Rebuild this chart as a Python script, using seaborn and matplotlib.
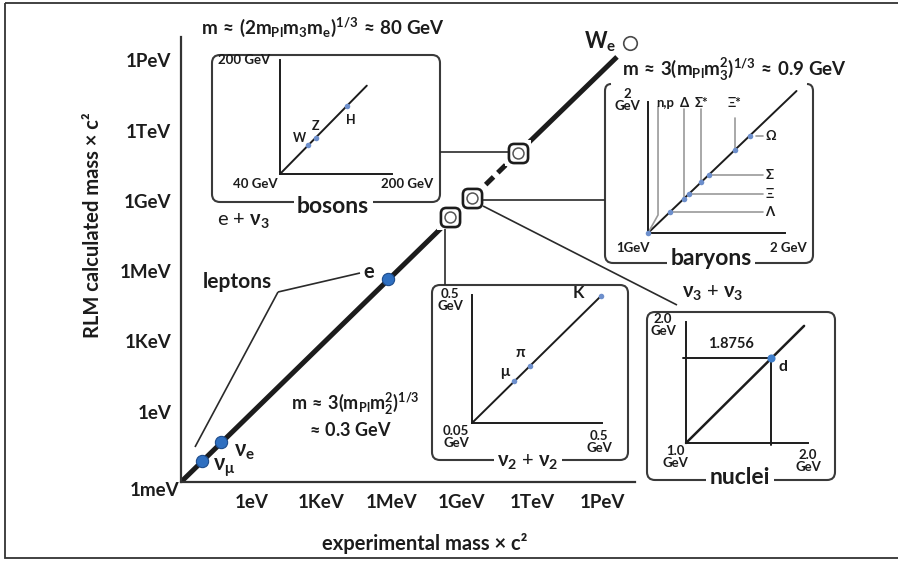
import matplotlib
matplotlib.use("Agg")
import matplotlib.pyplot as plt
from matplotlib.patches import FancyBboxPatch, Rectangle, PathPatch
from matplotlib.path import Path
from matplotlib.ticker import NullFormatter
import seaborn as sns

# ---------------- data ----------------
# main panel: experimental vs. calculated rest energy, in eV
lepton_names = [r"$\nu_\mu$", r"$\nu_e$", "e"]
lepton_exp = [10 ** -2.1, 10 ** -1.29, 10 ** 5.85]
lepton_calc = [10 ** -2.1, 10 ** -1.29, 10 ** 5.68]

group_names = ["mesons", "baryons", "bosons"]
group_exp = [10 ** 8.5, 10 ** 9.44, 10 ** 11.4]
group_calc = [10 ** 8.32, 10 ** 9.13, 10 ** 11.05]

we_exp, we_calc = 10 ** 16.19, 10 ** 15.76
trend_exp = [1e-3, 10 ** 15.63]
trend_calc = [1e-3, 10 ** 15.15]

decade_ticks = [1e0, 1e3, 1e6, 1e9, 1e12, 1e15]
decade_labels = ["1eV", "1KeV", "1MeV", "1GeV", "1TeV", "1PeV"]

# inset panels, masses in GeV
boson_names = ["W", "Z", "H"]
boson_mass = [80.4, 91.2, 135.0]

baryon_names = ["n,p", "Λ", "Δ", "Ξ", "Σ*", "Σ", "Ξ*", "Ω"]
baryon_mass = [1.0, 1.116, 1.20, 1.23, 1.31, 1.36, 1.55, 1.672]
baryon_vertical = ["n,p", "Δ", "Σ*", "Ξ*"]

meson_names = ["μ", "π", "K"]
meson_mass = [0.1057, 0.1396, 0.4937]

deuteron_mass = 1.8756

# ---------------- style ----------------
INK = "#1c1c1c"
BLUE = "#2f6fc0"
BLUE_EDGE = "#1d4c8c"
DOT = "#6d8fcc"
GUIDE = "#9a9a9a"

sns.set_theme(style="white")
plt.rcParams.update({
    "font.family": ["Lato", "DejaVu Sans"],
    "font.weight": "bold",
    "mathtext.fontset": "custom",
    "mathtext.rm": "Lato:bold",
    "mathtext.it": "Lato:bold",
    "mathtext.bf": "Lato:bold",
    "mathtext.sf": "Lato:bold",
    "mathtext.fallback": "stixsans",
    "text.color": INK,
})

W_PX, H_PX = 898, 561
fig = plt.figure(figsize=(W_PX / 100, H_PX / 100), dpi=100)
fig.patch.set_facecolor("white")


def rect(x0, y0, x1, y1):
    """Figure-fraction rectangle from pixel corners (origin at top-left)."""
    return [x0 / W_PX, 1 - y1 / H_PX, (x1 - x0) / W_PX, (y1 - y0) / H_PX]


def path_line(x, y, ax, **kw):
    """Straight polyline through the given points, drawn in the order given."""
    kw.setdefault("legend", False)
    sns.lineplot(x=x, y=y, ax=ax, estimator=None, sort=False, **kw)


# ---------------- main log-log panel ----------------
ax = fig.add_axes(rect(181, 37, 635, 482), zorder=1)
ax.set_xscale("log")
ax.set_yscale("log")

seg = dict(color=INK, lw=3.6)
path_line([trend_exp[0], group_exp[1]], [trend_calc[0], group_calc[1]], ax,
          solid_capstyle="butt", **seg)
path_line([group_exp[1], group_exp[2]], [group_calc[1], group_calc[2]], ax,
          linestyle=(3.0, (2.2, 1.2)), dash_capstyle="butt", **seg)
path_line([group_exp[2], trend_exp[1]], [group_calc[2], trend_calc[1]], ax,
          solid_capstyle="butt", **seg)

# group markers: rounded square with a ring inside, on a white halo
rounded = FancyBboxPatch((-0.5, -0.5), 1, 1,
                         boxstyle="round,pad=0,rounding_size=0.28").get_path()
sns.scatterplot(x=group_exp, y=group_calc, ax=ax, marker="s", s=330,
                color="white", edgecolor="white", linewidth=0, zorder=4, legend=False)
sns.scatterplot(x=group_exp, y=group_calc, ax=ax, marker=rounded, s=190,
                color="white", edgecolor=INK, linewidth=1.9, zorder=5, legend=False)
sns.scatterplot(x=group_exp, y=group_calc, ax=ax, marker="o", s=62,
                color="white", edgecolor="#555555", linewidth=1.1, zorder=6, legend=False)

sns.scatterplot(x=lepton_exp, y=lepton_calc, ax=ax, s=78, color=BLUE,
                edgecolor=BLUE_EDGE, linewidth=0.8, zorder=6, legend=False)
sns.scatterplot(x=[we_exp], y=[we_calc], ax=ax, s=95, color="white",
                edgecolor="#4a4a4a", linewidth=1.2, zorder=6, legend=False)
ax.collections[-1].set_clip_on(False)

lepton_offsets = [(16, -5), (17, -7), (-14, 4.5)]
lepton_sizes = [15.5, 15.5, 14.5]
for name, xe, yc, off, fs in zip(lepton_names, lepton_exp, lepton_calc,
                                 lepton_offsets, lepton_sizes):
    ax.annotate(name, (xe, yc), xytext=off, textcoords="offset points",
                ha="center", va="center", fontsize=fs)
ax.annotate(r"W$_e$", (we_exp, we_calc), xytext=(-21.5, 1),
            textcoords="offset points", ha="center", va="center", fontsize=15.5,
            annotation_clip=False)

ax.set_xlim(1e-3, 10 ** 16.4)
ax.set_ylim(1e-3, 1e16)
ax.set_xticks(decade_ticks, decade_labels)
ax.set_yticks(decade_ticks, decade_labels)
ax.set_xticks([10.0 ** k for k in range(-3, 17)], minor=True)
ax.set_yticks([10.0 ** k for k in range(-3, 17)], minor=True)
ax.xaxis.set_minor_formatter(NullFormatter())
ax.yaxis.set_minor_formatter(NullFormatter())
ax.tick_params(which="both", direction="out", length=4, width=1.5, color="#333333",
               labelsize=13.5, labelcolor=INK)
ax.tick_params(axis="x", pad=5)
ax.tick_params(axis="y", pad=3)
for lab in ax.get_xticklabels() + ax.get_yticklabels():
    lab.set_fontweight("bold")
ax.set_xlabel("")
ax.set_ylabel("")
sns.despine(ax=ax)
for side in ("left", "bottom"):
    ax.spines[side].set_linewidth(1.6)
    ax.spines[side].set_color("#333333")
ax.set_facecolor("none")

# ---------------- overlay for frames, connectors and captions ----------------
ov = fig.add_axes([0, 0, 1, 1], zorder=2)
ov.set_xlim(0, W_PX)
ov.set_ylim(H_PX, 0)
ov.axis("off")

ov.add_patch(Rectangle((5, 3), 905, 555, fill=False, lw=1.3, ec="#333333", clip_on=False))

box_kw = dict(fill=False, lw=1.5, ec="#3a3a3a")
ov.add_patch(FancyBboxPatch((212, 55), 228, 147, boxstyle="round,pad=0,rounding_size=8", **box_kw))
ov.add_patch(FancyBboxPatch((432, 285), 196, 175, boxstyle="round,pad=0,rounding_size=8", **box_kw))
ov.add_patch(FancyBboxPatch((647, 312), 188, 168, boxstyle="round,pad=0,rounding_size=8", **box_kw))
# baryon panel: frame open at the top
bracket = Path([(611, 84), (605, 84), (605, 91), (605, 255), (605, 263), (613, 263),
                (805, 263), (813, 263), (813, 255), (813, 91), (813, 84), (807, 84)],
               [Path.MOVETO, Path.CURVE3, Path.CURVE3, Path.LINETO, Path.CURVE3, Path.CURVE3,
                Path.LINETO, Path.CURVE3, Path.CURVE3, Path.LINETO, Path.CURVE3, Path.CURVE3])
ov.add_patch(PathPatch(bracket, **box_kw))

link = dict(color="#2a2a2a", lw=1.2, solid_capstyle="butt")
ov.plot([440, 508], [152, 152], **link)
ov.plot([483, 605], [200, 200], **link)
ov.plot([483, 677], [206, 305], **link)
ov.plot([445, 445], [229, 285], **link)
ov.plot([278, 360], [292, 273], **link)
ov.plot([278, 195], [292, 447], **link)

ov.text(237, 282, "leptons", ha="center", va="center", fontsize=15)
ov.text(179, 490, "1meV", ha="right", va="center", fontsize=13.5)
ov.text(93, 225, "RLM calculated mass × c²", rotation=90, ha="center", va="center", fontsize=14.5)
ov.text(425, 543, "experimental mass × c²", ha="center", va="center", fontsize=14.5)

ov.text(355, 404, r"m$\,\approx\,$3(m$_{Pl}$m$_2^2$)$^{1/3}$", ha="center", va="center", fontsize=13)
ov.text(349, 430, r"$\approx\,$0.3 GeV", ha="center", va="center", fontsize=13)
ov.text(323, 27, r"m$\,\approx\,$(2m$_{Pl}$m$_3$m$_e$)$^{1/3}$$\,\approx\,$80 GeV",
        ha="center", va="center", fontsize=13.5)
ov.text(734, 70, r"m$\,\approx\,$3(m$_{Pl}$m$_3^2$)$^{1/3}$$\,\approx\,$0.9 GeV",
        ha="center", va="center", fontsize=13.5)

white = dict(facecolor="white", edgecolor="none", boxstyle="square,pad=0.15")
ov.text(333, 206, "bosons", ha="center", va="center", fontsize=16.5, bbox=white)
ov.text(711, 258, "baryons", ha="center", va="center", fontsize=16.5, bbox=white)
ov.text(740, 477, "nuclei", ha="center", va="center", fontsize=16.5, bbox=white)
ov.text(528, 462, r"$\nu_2$ + $\nu_2$", ha="center", va="center", fontsize=14.5,
        fontweight="normal", bbox=white)
ov.text(243, 221, r"e + $\nu_3$", ha="center", va="center", fontsize=14.5, fontweight="normal")
ov.text(713, 293, r"$\nu_3$ + $\nu_3$", ha="center", va="center", fontsize=14.5, fontweight="normal")

small = dict(ha="center", va="center", fontsize=9.5, linespacing=0.95)
ov.text(244, 60, "200 GeV", **small)
ov.text(255, 184, "40 GeV", **small)
ov.text(407, 184, "200 GeV", **small)
ov.text(627, 100, "2\nGeV", **small)
ov.text(633, 248, "1GeV", **small)
ov.text(788, 248, "2 GeV", **small)
ov.text(450, 300, "0.5\nGeV", **small)
ov.text(456, 437, "0.05\nGeV", **small)
ov.text(599, 442, "0.5\nGeV", **small)
ov.text(663, 325, "2.0\nGeV", **small)
ov.text(675, 457, "1.0\nGeV", **small)
ov.text(808, 461, "2.0\nGeV", **small)


# ---------------- inset panels ----------------
def make_inset(x0, y0, x1, y1, scale):
    a = fig.add_axes(rect(x0, y0, x1, y1), zorder=3)
    a.set_facecolor("none")
    a.set_xscale(scale)
    a.set_yscale(scale)
    return a


def finish_inset(a, lim):
    a.set_xlim(lim)
    a.set_ylim(lim)
    a.set_xlabel("")
    a.set_ylabel("")
    a.minorticks_off()
    for side in ("top", "right"):
        a.spines[side].set_visible(False)
    for side in ("left", "bottom"):
        a.spines[side].set_linewidth(1.4)
        a.spines[side].set_color(INK)
    a.tick_params(which="both", labelbottom=False, labelleft=False, color=INK, width=1.3)


line_kw = dict(color=INK, lw=1.4, clip_on=False)
dot_kw = dict(color=DOT, edgecolor=DOT, s=16, linewidth=0, legend=False, zorder=5, clip_on=False)

# bosons (linear, 40-200 GeV)
bx = make_inset(280, 60, 392, 174, "linear")
path_line([40, 164], [40, 164], bx, **line_kw)
sns.scatterplot(x=boson_mass, y=boson_mass, ax=bx, **dot_kw)
for name, m, off in zip(boson_names, boson_mass, [(-6, 5), (0, 8.5), (3, -10)]):
    bx.annotate(name, (m, m), xytext=off, textcoords="offset points",
                ha="center", va="center", fontsize=9)
finish_inset(bx, (40, 200))
bx.set_xticks([200])
bx.set_yticks([200])
bx.tick_params(direction="out", length=5)
bx.set_xticks(range(60, 200, 20), minor=True)
bx.set_yticks(range(60, 200, 20), minor=True)
bx.tick_params(which="minor", direction="in", length=2, width=0.8, color="#888888")

# baryons (log, 1-2 GeV)
byx = make_inset(648, 102, 785, 233, "log")
path_line([1.0, 2.12], [1.0, 2.12], byx, **line_kw)
label_top = {"n,p": 1.95, "Δ": 1.93, "Σ*": 1.93, "Ξ*": 1.84}
guide = dict(color=GUIDE, lw=1.2, clip_on=False)
lab_kw = dict(fontsize=9.5, clip_on=False)
for name, m in zip(baryon_names, baryon_mass):
    if name == "n,p":
        path_line([1.0, 1.052, 1.052], [1.0, 1.10, label_top[name]], byx, **guide)
        byx.text(1.045, 1.99, name, ha="left", va="center", **lab_kw)
    elif name in baryon_vertical:
        path_line([m, m], [m, label_top[name]], byx, **guide)
        byx.text(m, 1.99, name, ha="center", va="center", **lab_kw)
    else:
        start = m * 1.035 if name == "Ω" else m
        path_line([start, 1.79], [m, m], byx, **guide)
        byx.text(1.81, m, name, ha="left", va="center", **lab_kw)
sns.scatterplot(x=baryon_mass, y=baryon_mass, ax=byx, **dot_kw)
finish_inset(byx, (1, 2))
byx.set_xticks([1.66, 2.0])
byx.set_yticks([1.66, 2.0])
byx.tick_params(axis="x", direction="in", length=4)
byx.tick_params(axis="y", direction="out", length=4)

# mesons (log, 0.05-0.5 GeV)
mx = make_inset(472, 295, 602, 423, "log")
path_line([0.05, 0.5], [0.05, 0.5], mx, **line_kw)
sns.scatterplot(x=meson_mass, y=meson_mass, ax=mx, **dot_kw)
for name, m, off, fs in zip(meson_names, meson_mass,
                            [(-7, 7), (-7, 9), (-16.5, 2)], [11, 11, 12]):
    mx.annotate(name, (m, m), xytext=off, textcoords="offset points",
                ha="center", va="center", fontsize=fs)
finish_inset(mx, (0.05, 0.5))
mx.set_xticks([0.25, 0.5])
mx.set_yticks([0.25, 0.5])
mx.tick_params(direction="out", length=3)

# nuclei (linear, deuteron)
nx = make_inset(686, 322, 808, 443, "linear")
path_line([1.0, 2.21], [1.0, 2.21], nx, color=INK, lw=1.8, clip_on=False)
path_line([0.97, deuteron_mass], [deuteron_mass, deuteron_mass], nx, **line_kw)
path_line([deuteron_mass, deuteron_mass], [deuteron_mass, 0.975], nx, **line_kw)
sns.scatterplot(x=[deuteron_mass], y=[deuteron_mass], ax=nx, color="#3f7fcc",
                edgecolor="#3f7fcc", s=34, linewidth=0, legend=False, zorder=5, clip_on=False)
nx.annotate("d", (deuteron_mass, deuteron_mass), xytext=(8, -6.5),
            textcoords="offset points", ha="center", va="center", fontsize=11.5)
nx.annotate(f"{deuteron_mass:.4f}", (deuteron_mass, deuteron_mass), xytext=(-29.5, 10),
            textcoords="offset points", ha="center", va="center", fontsize=10.5)
finish_inset(nx, (1.0, 2.25))
nx.set_xticks([2.25])
nx.set_yticks([2.25])
nx.tick_params(direction="out", length=3)

fig.savefig("out.png", dpi=100)
